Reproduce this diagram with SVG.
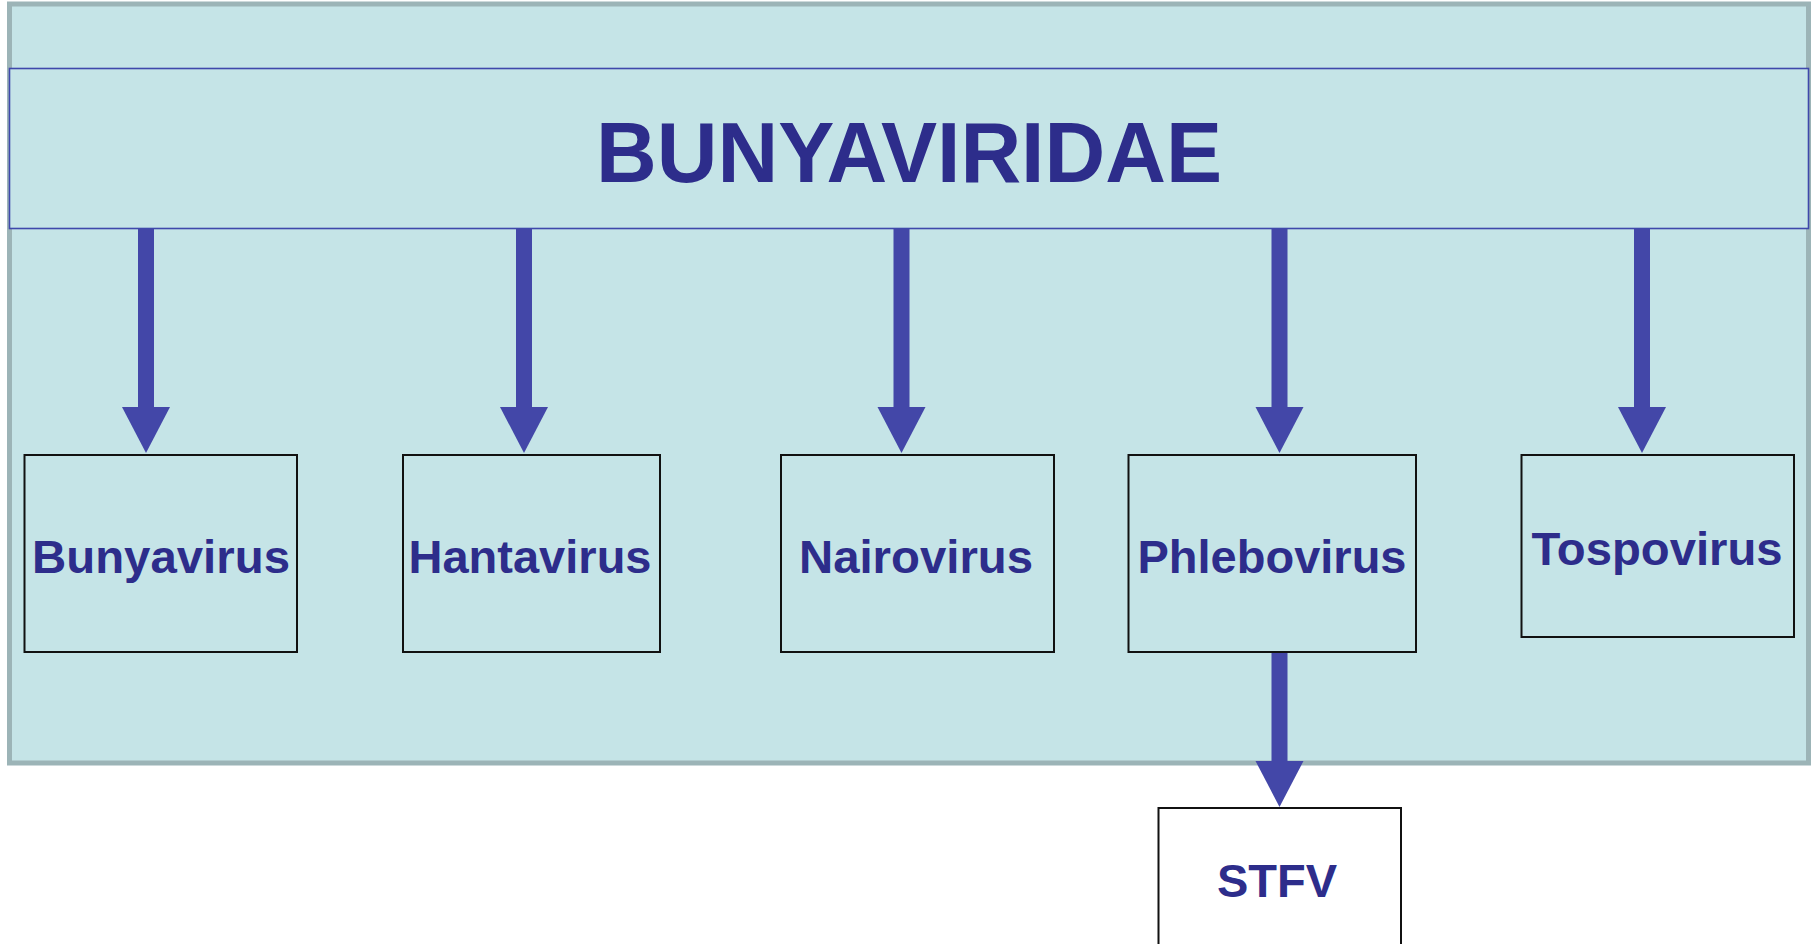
<svg xmlns="http://www.w3.org/2000/svg" width="1820" height="944" viewBox="0 0 1820 944">
<defs>
<style>
.box{fill:none;stroke:#111;stroke-width:2}
.lbl{font-family:"Liberation Sans",Arial,sans-serif;font-weight:bold;font-size:47px;fill:#2d2d8b;text-anchor:middle}
.conn{stroke:#4347a8;stroke-width:16;fill:none;marker-end:url(#ah)}
</style>
<marker id="ah" markerUnits="userSpaceOnUse" markerWidth="48" markerHeight="50" refX="0" refY="0" viewBox="0 -25 47 50" orient="auto" overflow="visible">
<path d="M0,-24 L46,0 L0,24 Z" fill="#4347a8"/>
</marker>
</defs>
<rect width="1820" height="944" fill="#ffffff"/>
<g id="frame">
<rect x="9.5" y="4" width="1799" height="759" fill="#c5e4e7" stroke="#9cb4b7" stroke-width="5"/>
</g>
<g id="bunyaviridae">
<rect x="9.5" y="68.5" width="1799" height="160" fill="#c5e4e7" stroke="#3f48ab" stroke-width="1.6"/>
<text x="909" y="182" font-family="'Liberation Sans',Arial,sans-serif" font-weight="bold" font-size="85" fill="#2d2d8b" text-anchor="middle" textLength="626" lengthAdjust="spacingAndGlyphs">BUNYAVIRIDAE</text>
</g>
<g id="connectors">
<line class="conn" x1="146" y1="229" x2="146" y2="407"/>
<line class="conn" x1="524" y1="229" x2="524" y2="407"/>
<line class="conn" x1="901.5" y1="229" x2="901.5" y2="407"/>
<line class="conn" x1="1279.5" y1="229" x2="1279.5" y2="407"/>
<line class="conn" x1="1642" y1="229" x2="1642" y2="407"/>
<line class="conn" x1="1279.5" y1="652" x2="1279.5" y2="761"/>
</g>
<g id="bunyavirus">
<rect class="box" x="24.5" y="455" width="272.5" height="197"/>
<text class="lbl" x="161" y="572.5" textLength="258" lengthAdjust="spacingAndGlyphs">Bunyavirus</text>
</g>
<g id="hantavirus">
<rect class="box" x="403" y="455" width="257" height="197"/>
<text class="lbl" x="530" y="572.5" textLength="243" lengthAdjust="spacingAndGlyphs">Hantavirus</text>
</g>
<g id="nairovirus">
<rect class="box" x="781" y="455" width="273" height="197"/>
<text class="lbl" x="916" y="572.5" textLength="234" lengthAdjust="spacingAndGlyphs">Nairovirus</text>
</g>
<g id="phlebovirus">
<rect class="box" x="1128.5" y="455" width="287.5" height="197"/>
<text class="lbl" x="1272" y="572.5" textLength="269" lengthAdjust="spacingAndGlyphs">Phlebovirus</text>
</g>
<g id="tospovirus">
<rect class="box" x="1521.5" y="455" width="272.5" height="182"/>
<text class="lbl" x="1657" y="565" textLength="251" lengthAdjust="spacingAndGlyphs">Tospovirus</text>
</g>
<g id="stfv">
<rect x="1158.5" y="808" width="242.5" height="150" fill="#ffffff" stroke="#111" stroke-width="2"/>
<text class="lbl" x="1277" y="896.5">STFV</text>
</g>
</svg>
